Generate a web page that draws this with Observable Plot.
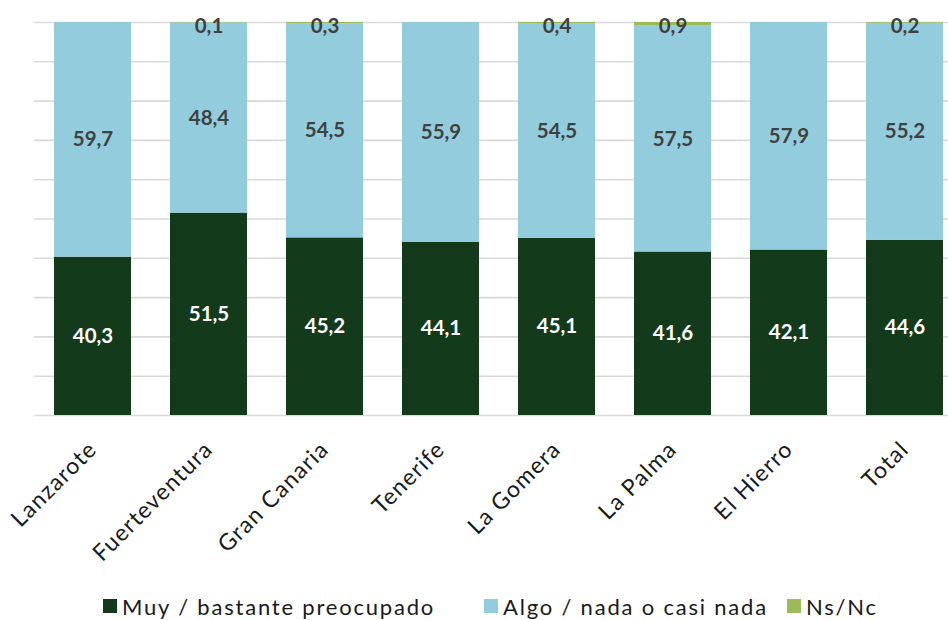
<!DOCTYPE html>
<html>
<head>
<meta charset="utf-8">
<script src="https://cdn.jsdelivr.net/npm/d3@7"></script>
<script src="https://cdn.jsdelivr.net/npm/@observablehq/plot@0.6"></script>
<style>
  body { margin: 0; background: #fff; font-family: Lato, "Open Sans", sans-serif; }
  #chart svg { display: block; overflow: visible; }
  #chart g[aria-label="x-axis tick label"] text { letter-spacing: 1.2px; }
  #legend { height: 32px; font-size: 22px; color: #1a1a1a; position: relative; letter-spacing: 1.8px; }
  #legend .item { position: absolute; top: 0; height: 32px; display: flex; align-items: center; white-space: nowrap; }
  #legend .sw { width: 14px; height: 14px; margin-right: 5px; }
</style>
</head>
<body>
<div id="chart"></div>
<div id="legend"></div>
<script>
const islands = ["Lanzarote", "Fuerteventura", "Gran Canaria", "Tenerife", "La Gomera", "La Palma", "El Hierro", "Total"];
const series = ["Muy / bastante preocupado", "Algo / nada o casi nada", "Ns/Nc"];
const muy = [40.3, 51.5, 45.2, 44.1, 45.1, 41.6, 42.1, 44.6];
const algo = [59.7, 48.4, 54.5, 55.9, 54.5, 57.5, 57.9, 55.2];
const nsnc = [0, 0.1, 0.3, 0, 0.4, 0.9, 0, 0.2];
const colors = ["#133a1a", "#93cddd", "#9bbb59"];
const gridTicks = [0, 10, 20, 30, 40, 50, 60, 70, 80, 90, 100];

const fmt = v => v.toFixed(1).replace(".", ",");
const values = [muy, algo, nsnc];
const data = [];
series.forEach((s, si) => islands.forEach((isl, i) => data.push({island: isl, series: s, value: values[si][i]})));

const W = 948, H = 590;
const chart = Plot.plot({
  width: W,
  height: H,
  marginTop: 22,
  marginBottom: H - 415,
  marginLeft: 34,
  marginRight: 0,
  style: {fontFamily: "Lato, 'Open Sans', sans-serif", overflow: "visible"},
  x: {domain: islands, range: [34, 963], paddingInner: 0.337, paddingOuter: 0.1685, label: null},
  y: {domain: [0, 100], label: null, axis: null},
  color: {domain: series, range: colors},
  marks: [
    Plot.ruleY(gridTicks, {stroke: "#d9d9d9", strokeWidth: 1.6}),
    Plot.barY(data, Plot.stackY({x: "island", y: "value", fill: "series", order: series})),
    Plot.text(data.filter(d => d.series !== "Ns/Nc"), Plot.stackY({
      x: "island", y: "value", z: "series", order: series.slice(0, 2),
      text: d => fmt(d.value),
      fill: d => d.series === series[0] ? "#ffffff" : "#404040",
      fontSize: 20.5, fontWeight: "bold"
    })),
    Plot.text(islands.map((isl, i) => ({island: isl, v: nsnc[i]})).filter(d => d.v > 0), {
      x: "island", y: 100, dy: 4, text: d => fmt(d.v), fill: "#404040", fontSize: 20.5, fontWeight: "bold"
    }),
    Plot.axisX({tickSize: 0, tickPadding: 30, tickRotate: -45, fontSize: 23, fill: "#1a1a1a", label: null})
  ]
});
document.getElementById("chart").appendChild(chart);

const legend = document.getElementById("legend");
const lx = [103, 484, 787];
series.forEach((s, i) => {
  const it = document.createElement("div");
  it.className = "item";
  it.style.left = lx[i] + "px";
  it.innerHTML = `<span class="sw" style="background:${colors[i]}"></span><span>${s}</span>`;
  legend.appendChild(it);
});
</script>
</body>
</html>
